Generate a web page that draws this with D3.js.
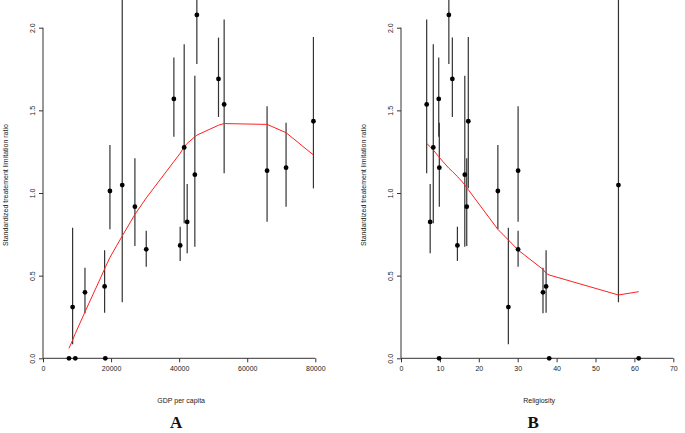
<!DOCTYPE html>
<html>
<head>
<meta charset="utf-8">
<script src="https://cdn.jsdelivr.net/npm/d3@7"></script>
<style>
  html, body { margin: 0; padding: 0; background: #fff; }
  svg { display: block; }
  text { font-family: "Liberation Sans", Arial, sans-serif; fill: #222; }
</style>
</head>
<body>
<svg id="chart" width="685" height="433"></svg>
<script>
// ---- data (one entry per country) ----
const gdp         = [7630, 8700, 9490, 12330, 18100, 18300, 19665, 23280, 27000, 30330, 38450, 40300, 41480, 42360, 44610, 45200, 51560, 53220, 65830, 71410, 79450];
const religiosity = [38.1, 27.6, 61.1, 36.5, 37.3, 9.8, 24.9, 55.9, 16.9, 30.1, 9.7, 14.5, 8.3, 7.5, 16.4, 12.3, 13.2, 6.6, 30.1, 9.85, 17.3];
const ratio       = [0, 0.310, 0, 0.399, 0.435, 0, 1.012, 1.048, 0.917, 0.659, 1.569, 0.683, 1.276, 0.825, 1.111, 2.077, 1.69, 1.536, 1.135, 1.153, 1.434];
const ciLow       = [null, 0.085, null, 0.272, 0.276, null, 0.78, 0.339, 0.68, 0.554, 1.34, 0.589, 0.817, 0.635, 0.675, 1.78, 1.46, 1.12, 0.826, 0.917, 1.028];
const ciHigh      = [null, 0.79, null, 0.548, 0.653, null, 1.29, 2.4, 1.21, 0.772, 1.82, 0.796, 1.90, 1.054, 1.71, 2.4, 1.94, 2.05, 1.525, 1.425, 1.944];

// loess fits (red lines)
const gdpFitX = [7630, 8700, 9490, 12330, 18100, 18300, 19665, 23280, 27000, 30330, 38450, 40300, 41480, 42360, 44610, 45200, 51560, 53220, 65830, 71410, 79450];
const gdpFitY = [0.06, 0.11, 0.15, 0.28, 0.54, 0.55, 0.61, 0.74, 0.87, 0.97, 1.19, 1.24, 1.28, 1.30, 1.34, 1.35, 1.41, 1.42, 1.415, 1.365, 1.23];
const relFitX = [6.6, 7.5, 8.3, 9.7, 9.8, 9.85, 12.3, 13.2, 14.5, 16.4, 16.9, 17.3, 24.9, 27.6, 30.1, 36.5, 37.3, 38.1, 55.9, 61.1];
const relFitY = [1.30, 1.28, 1.26, 1.22, 1.22, 1.215, 1.15, 1.13, 1.10, 1.05, 1.03, 1.02, 0.78, 0.716, 0.655, 0.538, 0.514, 0.504, 0.383, 0.403];

// ticks and labels
const xTicksA = [0, 20000, 40000, 60000, 80000];
const xTicksB = [0, 10, 20, 30, 40, 50, 60, 70];
const yTicks  = [0, 0.5, 1.0, 1.5, 2.0];
const yLabel  = "Standardized treatement limitation ratio";
const xLabelA = "GDP per capita";
const xLabelB = "Religiosity";
const panelA  = "A";
const panelB  = "B";

const svg = d3.select("#chart");

function drawPanel(opts) {
  const { xVals, xDomain, xRange, xTicks, fitX, fitY, xLabel, letter, letterShift } = opts;
  const x = d3.scaleLinear().domain(xDomain).range(xRange);
  const y = d3.scaleLinear().domain([0, 2]).range([358.3, 27.7]);
  const g = svg.append("g");

  // x axis (R style: line only between extreme ticks)
  const xAxis = d3.axisBottom(x).tickValues(xTicks).tickSize(4).tickPadding(4)
    .tickFormat(d => d3.format("d")(d));
  const gx = g.append("g").attr("transform", `translate(0,${y(0)})`).call(xAxis);
  gx.select(".domain").attr("d", `M${x(xTicks[0])},0H${x(xTicks[xTicks.length - 1])}`)
    .attr("stroke", "#333");
  gx.selectAll(".tick line").attr("stroke", "#333");
  gx.selectAll(".tick text").attr("font-size", 7).attr("fill", "#222")
    .attr("font-family", "Liberation Sans, Arial, sans-serif");

  // y axis
  const yAxis = d3.axisLeft(y).tickValues(yTicks).tickSize(4).tickFormat(d3.format(".1f"));
  const x0 = xRange[0];
  const gy = g.append("g").attr("transform", `translate(${x0},0)`).call(yAxis);
  gy.select(".domain").attr("d", `M0,${y(yTicks[0])}V${y(yTicks[yTicks.length - 1])}`)
    .attr("stroke", "#333");
  gy.selectAll(".tick line").attr("stroke", "#333");
  gy.selectAll(".tick text").attr("font-size", 7).attr("fill", "#222")
    .attr("font-family", "Liberation Sans, Arial, sans-serif")
    .attr("x", null).attr("dy", null)
    .attr("text-anchor", "middle")
    .attr("transform", "translate(-8.5,0) rotate(-90)");

  // axis title / panel letter
  g.append("text").attr("x", x0 - 35.5).attr("y", 185)
    .attr("transform", `rotate(-90,${x0 - 35.5},185)`)
    .attr("text-anchor", "middle").attr("font-size", 7).text(yLabel);
  const cx = (xRange[0] + xRange[1]) / 2;
  g.append("text").attr("x", cx + 2).attr("y", 403).attr("text-anchor", "middle")
    .attr("font-size", 7).text(xLabel);
  g.append("text").attr("x", cx + letterShift).attr("y", 428).attr("text-anchor", "middle")
    .attr("font-size", 17).attr("font-weight", "bold")
    .style("font-family", "'Liberation Serif', 'Times New Roman', serif")
    .style("fill", "#111").text(letter);

  // error bars
  const idx = d3.range(xVals.length).filter(i => ciLow[i] !== null);
  g.append("g").selectAll("line").data(idx).join("line")
    .attr("x1", i => x(xVals[i])).attr("x2", i => x(xVals[i]))
    .attr("y1", i => y(ciLow[i])).attr("y2", i => y(ciHigh[i]))
    .attr("stroke", "#333").attr("stroke-width", 1.2);

  // loess line
  g.append("path").datum(d3.zip(fitX, fitY))
    .attr("d", d3.line().x(d => x(d[0])).y(d => y(d[1])))
    .attr("fill", "none").attr("stroke", "#ff2020").attr("stroke-width", 1);

  // points
  g.append("g").selectAll("circle").data(d3.range(xVals.length)).join("circle")
    .attr("cx", i => x(xVals[i])).attr("cy", i => y(ratio[i]))
    .attr("r", 2.4).attr("fill", "#000");
}

drawPanel({ xVals: gdp, xDomain: [0, 80000], xRange: [43, 315.3], xTicks: xTicksA,
  fitX: gdpFitX, fitY: gdpFitY, xLabel: xLabelA, letter: panelA, letterShift: -3 });
drawPanel({ xVals: religiosity, xDomain: [0, 70], xRange: [401, 673.3], xTicks: xTicksB,
  fitX: relFitX, fitY: relFitY, xLabel: xLabelB, letter: panelB, letterShift: -4 });
</script>
</body>
</html>
